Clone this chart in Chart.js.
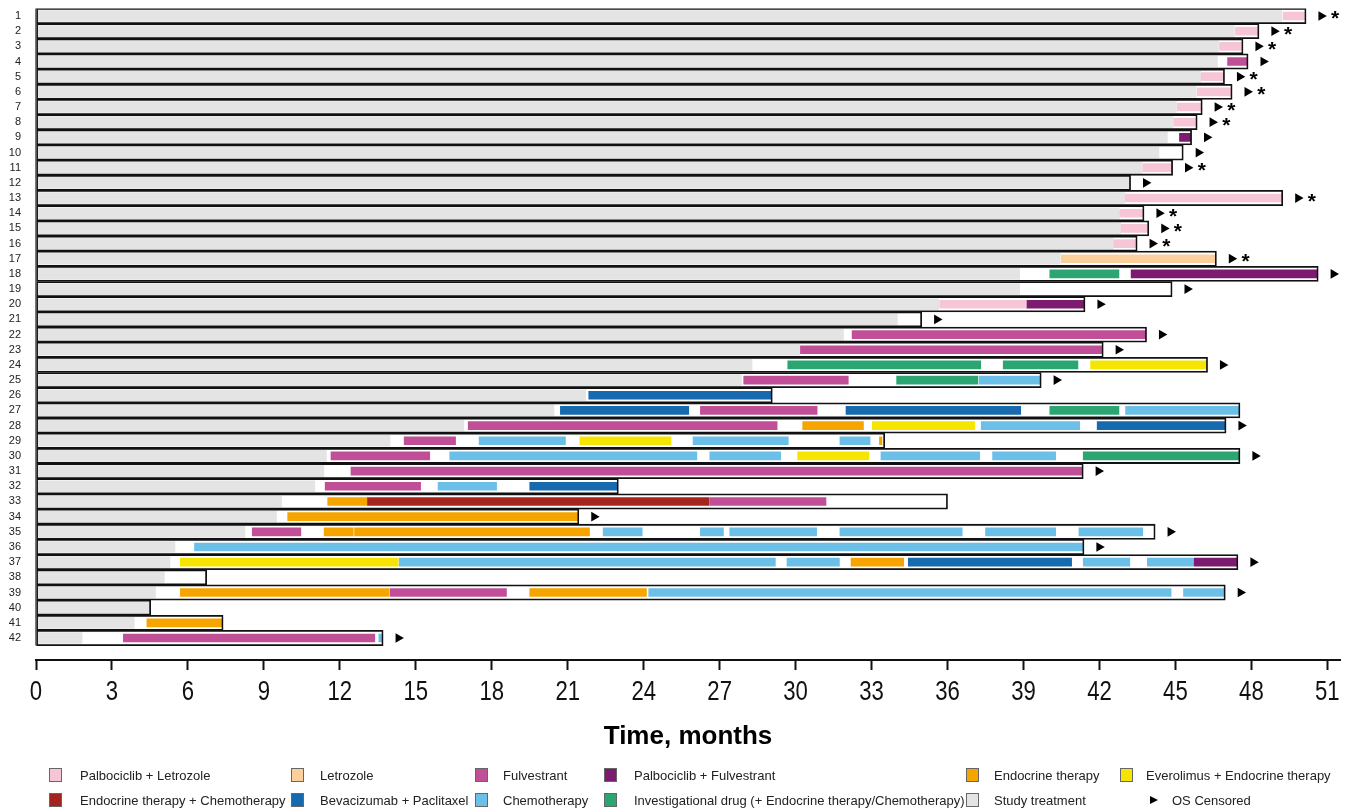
<!DOCTYPE html>
<html>
<head>
<meta charset="utf-8">
<title>Swimmer plot – treatment course and overall survival</title>
<script src="https://cdn.jsdelivr.net/npm/chart.js@4.4.1/dist/chart.umd.min.js"></script>
<style>
  html, body { margin: 0; padding: 0; background: #fff; }
  #wrap { position: relative; width: 1354px; height: 811px; overflow: hidden; }
  #chart { position: absolute; left: 0; top: 0; }
  .lg { position: absolute; height: 16px; font: 13px "Liberation Sans", Arial, sans-serif; color: #222; white-space: nowrap; }
  .lg .sw { position: absolute; left: 0; top: 0; width: 13px; height: 14px; border: 1px solid #666; box-sizing: border-box; }
  .lg .tri { position: absolute; left: 2px; top: 3px; width: 0; height: 0; border-top: 4.5px solid transparent; border-bottom: 4.5px solid transparent; border-left: 8px solid #000; }
  .lg .tx { position: absolute; top: 0; line-height: 15px; }
</style>
</head>
<body>
<div id="wrap">
  <canvas id="chart" width="1354" height="811"></canvas>
</div>
<script>
// Patient rows (top to bottom)
const rowLabels = ['1','2','3','4','5','6','7','8','9','10','11','12','13','14','15','16','17','18','19','20','21',
  '22','23','24','25','26','27','28','29','30','31','32','33','34','35','36','37','38','39','40','41','42'];

// Overall survival follow-up per patient, months
const osMonths = [50.16, 48.30, 47.67, 47.87, 46.94, 47.24, 46.06, 45.86, 45.64, 45.31, 44.89, 43.23, 49.24, 43.76,
  43.95, 43.49, 46.62, 50.64, 44.87, 41.43, 34.98, 43.86, 42.15, 46.27, 39.70, 29.08, 47.55, 47.00, 33.52, 47.55,
  41.36, 23.00, 36.00, 21.44, 44.20, 41.39, 47.47, 6.74, 46.97, 4.53, 7.39, 13.71];

// End of study treatment per patient, months
const studyEnd = [49.20, 47.33, 46.70, 46.66, 46.00, 45.82, 45.04, 44.90, 44.68, 44.35, 43.68, 43.19, 43.00, 42.78,
  42.84, 42.54, 40.45, 38.85, 38.85, 35.65, 34.02, 31.89, 30.16, 28.28, 27.86, 21.71, 20.46, 16.90, 13.98, 11.47,
  11.37, 11.01, 9.70, 9.50, 8.25, 5.49, 5.29, 5.07, 4.72, 4.50, 3.88, 1.82];

// OS censored (1 = censored) and patients flagged with an asterisk
const censored = [1,1,1,1,1,1,1,1,1,1,1,1,1,1,1,1,1,1,1,1,1,1,1,1,1,0,0,1,0,1,1,0,0,1,1,1,1,0,1,0,0,1];
const asteriskFlag = [1,1,1,0,1,1,1,1,0,0,1,0,1,1,1,1,1,0,0,0,0,0,0,0,0,0,0,0,0,0,0,0,0,0,0,0,0,0,0,0,0,0];

// Subsequent therapy periods: [patient row, start month, end month]
const palboLetrozole = [[1,49.25,50.10],[2,47.37,48.25],[3,46.74,47.60],[5,46.02,46.90],[6,45.86,47.20],[7,45.07,46.02],
  [8,44.93,45.82],[11,43.71,44.85],[13,43.02,49.22],[14,42.80,43.71],[15,42.86,43.91],[16,42.56,43.45],[20,35.69,39.11]];
const letrozole = [[17,40.49,46.59]];
const fulvestrant = [[4,47.06,47.83],[22,32.23,43.83],[23,30.19,42.12],[25,27.95,32.08],[27,26.24,30.85],[28,17.07,29.27],
  [29,14.54,16.57],[30,11.65,15.55],[31,12.44,41.33],[32,11.42,15.19],[33,26.60,31.20],[35,8.54,10.46],[39,13.99,18.58],
  [42,3.45,13.38]];
const palboFulvestrant = [[9,45.16,45.60],[18,43.25,50.60],[20,39.12,41.39],[37,45.73,47.43]];
const endocrine = [[28,30.28,32.68],[29,33.31,33.41],[33,11.52,13.06],[34,9.94,21.40],[35,11.38,12.53],[35,12.58,21.86],
  [37,32.19,34.27],[39,5.70,13.95],[39,19.50,24.11],[41,4.38,7.37]];
const everolimusEndocrine = [[24,41.65,46.23],[28,33.03,37.07],[29,21.48,25.08],[30,30.08,32.89],[37,5.70,14.30]];
const endocrineChemo = [[33,13.09,26.57]];
const bevPaclitaxel = [[26,21.83,29.04],[27,20.71,25.78],[27,31.99,38.89],[28,41.91,46.98],[32,19.50,22.95],[37,34.45,40.90]];
const chemotherapy = [[25,37.25,39.68],[27,43.03,47.50],[28,37.33,41.22],[29,17.50,20.91],[29,25.95,29.71],[29,31.75,32.94],
  [30,16.34,26.10],[30,26.61,29.41],[30,33.37,37.27],[30,37.78,40.27],[32,15.88,18.19],[35,22.40,23.94],[35,26.24,27.15],
  [35,27.40,30.83],[35,31.75,36.58],[35,37.50,40.27],[35,41.19,43.71],[36,6.26,41.36],[37,14.34,29.20],[37,29.66,31.73],
  [37,41.36,43.20],[37,43.89,45.69],[39,24.20,44.83],[39,45.32,46.94],[42,13.54,13.66]];
const investigational = [[18,40.04,42.77],[24,29.69,37.31],[24,38.20,41.15],[25,33.99,37.20],[27,40.04,42.77],[30,41.36,47.50]];

// Time axis ticks
const timeTicks = [0, 3, 6, 9, 12, 15, 18, 21, 24, 27, 30, 33, 36, 39, 42, 45, 48, 51];

const therapies = [
  { label: 'Palbociclib + Letrozole', color: '#f7c6d6', segs: palboLetrozole },
  { label: 'Letrozole', color: '#fbd09c', segs: letrozole },
  { label: 'Fulvestrant', color: '#c04f97', segs: fulvestrant },
  { label: 'Palbociclib + Fulvestrant', color: '#7c1b6f', segs: palboFulvestrant },
  { label: 'Endocrine therapy', color: '#f5a400', segs: endocrine },
  { label: 'Everolimus + Endocrine therapy', color: '#f6e500', segs: everolimusEndocrine },
  { label: 'Endocrine therapy + Chemotherapy', color: '#a6241f', segs: endocrineChemo },
  { label: 'Bevacizumab + Paclitaxel', color: '#176aad', segs: bevPaclitaxel },
  { label: 'Chemotherapy', color: '#6cbfe6', segs: chemotherapy },
  { label: 'Investigational drug (+ Endocrine therapy/Chemotherapy)', color: '#2ba673', segs: investigational }
];
const studyColor = '#e4e4e4';

const FONT = '"Liberation Sans", Arial, sans-serif';
const ROW_STEP_BAR = 15.2;   // outline box spans one full row
const BAR_STUDY = 11;
const BAR_THERAPY = 8;

// Split each therapy's periods into layers so a row appears at most once per dataset
function layersOf(segs) {
  const layers = [];
  segs.forEach(([row, s, e]) => {
    let layer = layers.find(l => !l.some(p => p.y === row));
    if (!layer) { layer = []; layers.push(layer); }
    layer.push({ y: row, x: [s, e] });
  });
  return layers;
}

const datasets = [];

// Outline box: from 0 to end of OS follow-up
datasets.push({
  type: 'bar', indexAxis: 'y', grouped: false, order: 0,
  data: osMonths.map((v, i) => ({ y: i + 1, x: [0, v] })),
  backgroundColor: 'rgba(0,0,0,0)', borderColor: '#111', borderWidth: 1.1, borderSkipped: false,
  barThickness: ROW_STEP_BAR
});

// Study treatment
datasets.push({
  type: 'bar', indexAxis: 'y', grouped: false, order: 3,
  data: studyEnd.map((v, i) => ({ y: i + 1, x: [0, v] })),
  backgroundColor: studyColor, borderWidth: 0, barThickness: BAR_STUDY
});

// Subsequent therapies
therapies.forEach(t => {
  layersOf(t.segs).forEach(layer => {
    datasets.push({
      type: 'bar', indexAxis: 'y', grouped: false, order: 2, label: t.label,
      data: layer, backgroundColor: t.color, borderWidth: 0, barThickness: BAR_THERAPY
    });
  });
});

// OS censored markers, just past the end of follow-up
datasets.push({
  type: 'scatter', order: 0, clip: false,
  data: osMonths.map((v, i) => censored[i] ? { x: v + 0.6, y: i + 1 } : null).filter(Boolean),
  pointStyle: 'triangle', rotation: 90, pointRadius: 5.6, pointHoverRadius: 5.6,
  backgroundColor: '#000', borderColor: '#000', borderWidth: 0
});

// Asterisk flags
datasets.push({
  type: 'scatter', order: 0, clip: false, asterisk: true,
  data: osMonths.map((v, i) => asteriskFlag[i] ? { x: v + 1.15, y: i + 1 } : null).filter(Boolean),
  pointRadius: 0, pointHoverRadius: 0
});

// Left axis line covering only the patient rows
const rowAxisLine = {
  id: 'rowAxisLine',
  afterDatasetsDraw(chart) {
    const { ctx, scales: { y }, chartArea } = chart;
    ctx.save();
    ctx.strokeStyle = '#555';
    ctx.lineWidth = 1.6;
    ctx.beginPath();
    ctx.moveTo(chartArea.left, y.getPixelForValue(0.5));
    ctx.lineTo(chartArea.left, y.getPixelForValue(rowLabels.length + 0.5));
    ctx.stroke();
    ctx.restore();
  }
};

// Draws '*' glyphs at the points of datasets flagged with `asterisk`
const asteriskMarks = {
  id: 'asteriskMarks',
  afterDatasetsDraw(chart) {
    const { ctx } = chart;
    chart.data.datasets.forEach((ds, di) => {
      if (!ds.asterisk) return;
      const meta = chart.getDatasetMeta(di);
      ctx.save();
      ctx.fillStyle = '#000';
      ctx.font = 'bold 21px ' + FONT;
      ctx.textAlign = 'center';
      ctx.textBaseline = 'alphabetic';
      meta.data.forEach(pt => ctx.fillText('*', pt.x, pt.y + 9.5));
      ctx.restore();
    });
  }
};

// Time tick labels drawn tall and narrow, positioned by the x scale
const timeTickLabels = {
  id: 'timeTickLabels',
  afterDraw(chart) {
    const { ctx, scales: { x } } = chart;
    ctx.save();
    ctx.fillStyle = '#111';
    ctx.font = '27px ' + FONT;
    ctx.textAlign = 'center';
    ctx.textBaseline = 'middle';
    x.ticks.forEach(t => {
      const px = x.getPixelForValue(t.value);
      ctx.save();
      ctx.translate(px, x.top + 33);
      ctx.scale(0.82, 1);
      ctx.fillText(String(t.value), 0, 0);
      ctx.restore();
    });
    ctx.restore();
  }
};

new Chart(document.getElementById('chart'), {
  data: { datasets },
  plugins: [rowAxisLine, asteriskMarks, timeTickLabels],
  options: {
    responsive: false,
    animation: false,
    devicePixelRatio: 1,
    layout: { padding: { top: 8.4, right: 14, left: 0, bottom: 0 } },
    plugins: { legend: { display: false }, tooltip: { enabled: false } },
    scales: {
      x: {
        type: 'linear', min: 0, max: 51.5, offset: false,
        afterBuildTicks: s => { s.ticks = timeTicks.map(v => ({ value: v })); },
        afterFit: s => { s.height = 151; s.paddingLeft = 0; s.paddingRight = 0; },
        grid: { drawOnChartArea: false, drawTicks: true, tickLength: 10, tickWidth: 2, tickColor: '#111' },
        border: { display: true, color: '#111', width: 2 },
        ticks: { padding: 9, color: 'rgba(0,0,0,0)', font: { family: FONT, size: 22 } },
        title: {
          display: true, text: 'Time, months', color: '#000',
          font: { family: FONT, size: 26, weight: 'bold' },
          padding: { top: 0, bottom: 59 }
        }
      },
      y: {
        type: 'linear', reverse: true, min: 0.5, max: 43.45, offset: false,
        afterBuildTicks: s => { s.ticks = rowLabels.map((_, i) => ({ value: i + 1 })); },
        afterFit: s => { s.width = 36; s.paddingTop = 0; s.paddingBottom = 0; },
        grid: { display: false, drawTicks: false, offset: false },
        border: { display: false },
        ticks: {
          autoSkip: false, padding: 15, color: '#222',
          font: { family: FONT, size: 11 },
          callback: v => rowLabels[v - 1]
        }
      }
    }
  }
});

// Legend below the axis title
const legendRows = [
  ['Palbociclib + Letrozole', 'Letrozole', 'Fulvestrant', 'Palbociclib + Fulvestrant', 'Endocrine therapy', 'Everolimus + Endocrine therapy'],
  ['Endocrine therapy + Chemotherapy', 'Bevacizumab + Paclitaxel', 'Chemotherapy', 'Investigational drug (+ Endocrine therapy/Chemotherapy)', 'Study treatment', 'OS Censored']
];
const legendCols = [49, 291, 475, 604, 966, 1120];
const legendTextGap = [31, 29, 28, 30, 28, 26];
const legendTops = [768, 793];
const colorOf = label => {
  if (label === 'Study treatment') return studyColor;
  const t = therapies.find(x => x.label === label);
  return t ? t.color : null;
};
const wrap = document.getElementById('wrap');
legendRows.forEach((row, r) => {
  row.forEach((label, c) => {
    const item = document.createElement('div');
    item.className = 'lg';
    item.style.left = legendCols[c] + 'px';
    item.style.top = legendTops[r] + 'px';
    const col = colorOf(label);
    const mark = document.createElement('div');
    if (col) { mark.className = 'sw'; mark.style.background = col; }
    else { mark.className = 'tri'; mark.style.left = (label === 'OS Censored' ? 30 : 2) + 'px'; }
    const tx = document.createElement('div');
    tx.className = 'tx';
    tx.style.left = (label === 'OS Censored' ? 52 : legendTextGap[c]) + 'px';
    tx.textContent = label;
    item.appendChild(mark);
    item.appendChild(tx);
    wrap.appendChild(item);
  });
});
</script>
</body>
</html>
